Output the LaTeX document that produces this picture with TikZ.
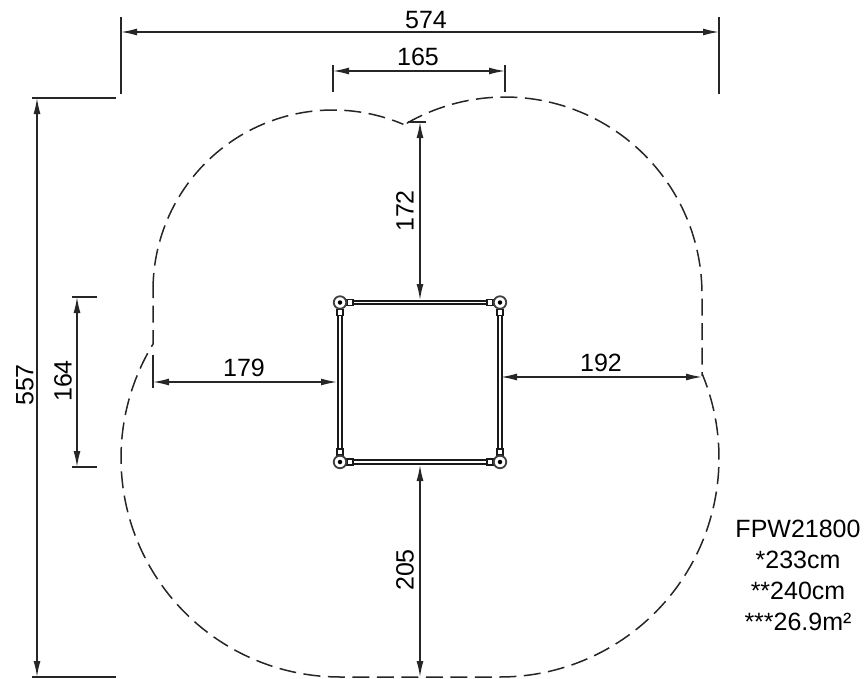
\documentclass[tikz,border=0pt]{standalone}
\usepackage{fontspec}
\setmainfont{Liberation Sans}
\usetikzlibrary{arrows.meta}
\tikzset{
  dimline/.style={line width=1.4pt,draw=black!85,{Latex[length=16pt,width=7pt]}-{Latex[length=16pt,width=7pt]}},
  extline/.style={line width=1.6pt,draw=black!85},
  outline/.style={line width=1.5pt,draw=black!85,dash pattern=on 17pt off 7.5pt},
  dimtext/.style={inner sep=0pt,font=\fontsize{25}{25}\selectfont},
  beamline/.style={double=white,double distance=1.8pt,line width=1.7pt,draw=black!90},
  postring/.style={circle,draw=black!75,fill=white,line width=1.8pt,minimum size=12.5pt,inner sep=0pt},
  postdot/.style={circle,fill=black,minimum size=4.5pt,inner sep=0pt},
  clamp/.style={draw=black!90,fill=white,line width=1.7pt,minimum width=6pt,minimum height=6pt,inner sep=0pt},
}
\begin{document}
\begin{tikzpicture}[x=1pt,y=-1pt]
\useasboundingbox (0,0) rectangle (865,678);
% safety-zone outline
\draw[outline]
  plot[domain=180:67,samples=70] ({333+180*cos(\x)},{290-180*sin(\x)})
  (407,123) -- plot[domain=119.8:0,samples=70] ({505+197*cos(\x)},{294-197*sin(\x)})
  -- (702,375)
  -- plot[domain=22.3:-90,samples=70] ({500+219*cos(\x)},{458-219*sin(\x)})
  -- plot[domain=270:148.6,samples=70] ({340+219*cos(\x)},{458-219*sin(\x)})
  -- (153,290);
% posts
\coordinate (pa) at (340,302.5);
\coordinate (pb) at (500,302.5);
\coordinate (pc) at (340,462);
\coordinate (pd) at (500,462);
\draw[beamline] (pa) -- (pb);
\draw[beamline] (pb) -- (pd);
\draw[beamline] (pd) -- (pc);
\draw[beamline] (pc) -- (pa);
\foreach \p/\dx/\dy in {pa/1/1,pb/-1/1,pc/1/-1,pd/-1/-1}{
  \node[clamp] at ([xshift=\dx*10pt]\p) {};
  \node[clamp] at ([yshift=-\dy*10pt]\p) {};
  \node[postring] at (\p) {};
  \node[postdot] at (\p) {};
}
% extension lines and dimension lines
\coordinate (a1) at (121,32); \coordinate (a2) at (719,32);
\draw[extline] (121,17) -- (121,94);
\draw[extline] (719,17) -- (719,94);
\draw[dimline] (a1) -- (a2);
\coordinate (b1) at (333,71); \coordinate (b2) at (505,71);
\draw[extline] (333,65) -- (333,92);
\draw[extline] (505,65) -- (505,92);
\draw[dimline] (b1) -- (b2);
\coordinate (c1) at (37,98); \coordinate (c2) at (37,677);
\draw[extline] (32,98) -- (116,98);
\draw[extline] (32,677) -- (116,677);
\draw[dimline] (c1) -- (c2);
\coordinate (d1) at (77,297); \coordinate (d2) at (77,467);
\draw[extline] (72,297) -- (97,297);
\draw[extline] (72,467) -- (97,467);
\draw[dimline] (d1) -- (d2);
\coordinate (e1) at (420,122); \coordinate (e2) at (420,300);
\draw[extline] (408,122) -- (426,122);
\draw[dimline] (e1) -- (e2);
\coordinate (f1) at (153,382); \coordinate (f2) at (337,382);
\draw[extline] (153,355) -- (153,388);
\draw[dimline] (f1) -- (f2);
\coordinate (g1) at (501,377); \coordinate (g2) at (702,377);
\draw[dimline] (g1) -- (g2);
\coordinate (h1) at (420,465); \coordinate (h2) at (420,677);
\draw[dimline] (h1) -- (h2);
% labels
\node[dimtext] (ta) at (426,20) {574};
\node[dimtext] (tb) at (418,57) {165};
\node[dimtext,rotate=90] (tc) at (25,385) {557};
\node[dimtext,rotate=90] (td) at (63,381) {164};
\node[dimtext,rotate=90] (te) at (405,211) {172};
\node[dimtext] (tf) at (244,368) {179};
\node[dimtext] (tg) at (601,363) {192};
\node[dimtext,rotate=90] (th) at (405,570) {205};
\node[dimtext] (i1) at (798,529) {FPW21800};
\node[dimtext] (i2) at (798,560) {*233cm};
\node[dimtext] (i3) at (798,591) {**240cm};
\node[dimtext] (i4) at (798,622) {***26.9m²};
\end{tikzpicture}
\end{document}
